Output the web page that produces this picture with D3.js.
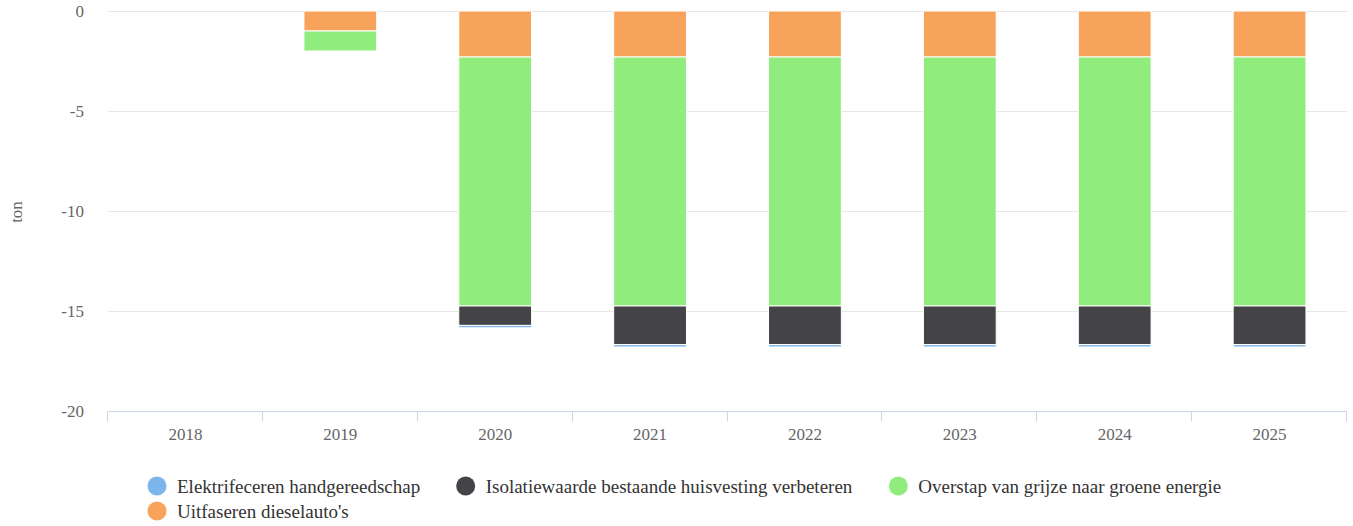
<!DOCTYPE html>
<html>
<head>
<meta charset="utf-8">
<script src="https://cdn.jsdelivr.net/npm/d3@7"></script>
<style>
  body { margin: 0; background: #fff; }
  svg { font-family: "Liberation Serif", "Times New Roman", serif; }
</style>
</head>
<body>
<div id="chart"></div>
<script>
var years = ["2018", "2019", "2020", "2021", "2022", "2023", "2024", "2025"];
var seriesNames = ["Elektrifeceren handgereedschap", "Isolatiewaarde bestaande huisvesting verbeteren",
                   "Overstap van grijze naar groene energie", "Uitfaseren dieselauto's"];
var colors = ["#7cb5ec", "#434348", "#90ed7d", "#f7a35c"];
// values per series, one per year (ton)
var elektrifeceren = [0, 0, -0.12, -0.12, -0.12, -0.12, -0.12, -0.12];
var isolatie = [0, 0, -0.97, -1.93, -1.93, -1.93, -1.93, -1.93];
var overstap = [0, -1, -12.45, -12.45, -12.45, -12.45, -12.45, -12.45];
var uitfaseren = [0, -1, -2.3, -2.3, -2.3, -2.3, -2.3, -2.3];
var yTicks = [0, -5, -10, -15, -20];

var width = 1353, height = 526;
var margin = {top: 11, right: 6, bottom: 115, left: 108};
var innerW = width - margin.left - margin.right,
    innerH = height - margin.top - margin.bottom;

var svg = d3.select("#chart").append("svg")
    .attr("width", width)
    .attr("height", height);

var g = svg.append("g")
    .attr("transform", "translate(" + margin.left + "," + margin.top + ")");

var x = d3.scaleBand().domain(years).range([0, innerW]).paddingInner(0.53).paddingOuter(0.265);
var xCat = d3.scaleBand().domain(years).range([0, innerW]);
var y = d3.scaleLinear().domain([0, -20]).range([0, innerH]);

// build table from arrays
var table = years.map(function(yr, i) {
  var row = {year: yr};
  row[seriesNames[0]] = elektrifeceren[i];
  row[seriesNames[1]] = isolatie[i];
  row[seriesNames[2]] = overstap[i];
  row[seriesNames[3]] = uitfaseren[i];
  return row;
});

// gridlines
g.append("g")
  .selectAll("line")
  .data(yTicks)
  .enter().append("line")
    .attr("x1", 0).attr("x2", innerW)
    .attr("y1", function(d) { return Math.round(y(d)) + 0.5; })
    .attr("y2", function(d) { return Math.round(y(d)) + 0.5; })
    .attr("stroke", "#e6e6e6");

// y labels
g.append("g")
  .selectAll("text")
  .data(yTicks)
  .enter().append("text")
    .attr("x", -24)
    .attr("y", function(d) { return y(d) + 6; })
    .attr("text-anchor", "end")
    .attr("fill", "#666")
    .style("font-size", "17px")
    .text(function(d) { return d; });

// y title
svg.append("text")
  .attr("transform", "translate(22,212) rotate(-90)")
  .attr("text-anchor", "middle")
  .attr("fill", "#666")
  .style("font-size", "17px")
  .text("ton");

// stacks: orange nearest zero, then green, dark, blue
var keys = seriesNames.slice().reverse();
var stack = d3.stack().keys(keys).offset(d3.stackOffsetDiverging);
var layers = stack(table);

g.append("g")
  .selectAll("g")
  .data(layers)
  .enter().append("g")
    .attr("fill", function(d) { return colors[seriesNames.indexOf(d.key)]; })
  .selectAll("rect")
  .data(function(d) { return d; })
  .enter().append("rect")
    .attr("x", function(d) { return x(d.data.year); })
    .attr("width", x.bandwidth())
    .attr("y", function(d) { return y(Math.max(d[0], d[1])); })
    .attr("height", function(d) { return Math.abs(y(d[0]) - y(d[1])); })
    .attr("stroke", "#fff")
    .attr("stroke-width", 1);

// x axis
var xAxis = g.append("g").attr("transform", "translate(0," + (innerH + 0.5) + ")");
xAxis.append("line")
  .attr("x1", 0).attr("x2", innerW)
  .attr("stroke", "#ccd6eb");
xAxis.selectAll(".tick")
  .data(years.concat(["end"]))
  .enter().append("line")
    .attr("x1", function(d, i) { return Math.round(i < years.length ? xCat(d) : innerW) - 0.5; })
    .attr("x2", function(d, i) { return Math.round(i < years.length ? xCat(d) : innerW) - 0.5; })
    .attr("y1", 0).attr("y2", 10)
    .attr("stroke", "#ccd6eb");
xAxis.selectAll(".lbl")
  .data(years)
  .enter().append("text")
    .attr("x", function(d) { return xCat(d) + xCat.bandwidth() / 2; })
    .attr("y", 28)
    .attr("text-anchor", "middle")
    .attr("fill", "#666")
    .style("font-size", "17px")
    .text(function(d) { return d; });

// legend
var legend = svg.append("g");
var items = legend.selectAll("g")
  .data(seriesNames)
  .enter().append("g");
items.append("circle")
  .attr("r", 9.5)
  .attr("cx", 0).attr("cy", 0)
  .attr("fill", function(d, i) { return colors[i]; });
items.append("text")
  .attr("x", 20)
  .attr("y", 6.5)
  .attr("fill", "#333")
  .style("font-size", "19px")
  .text(function(d) { return d; });

var itemGap = 36;
var startX = 157;
var cx = startX;
items.attr("transform", function(d, i) {
  var t;
  if (i < 3) {
    t = "translate(" + cx + ",486)";
    cx += this.getBBox().width + itemGap;
  } else {
    t = "translate(" + startX + ",511)";
  }
  return t;
});
</script>
</body>
</html>
